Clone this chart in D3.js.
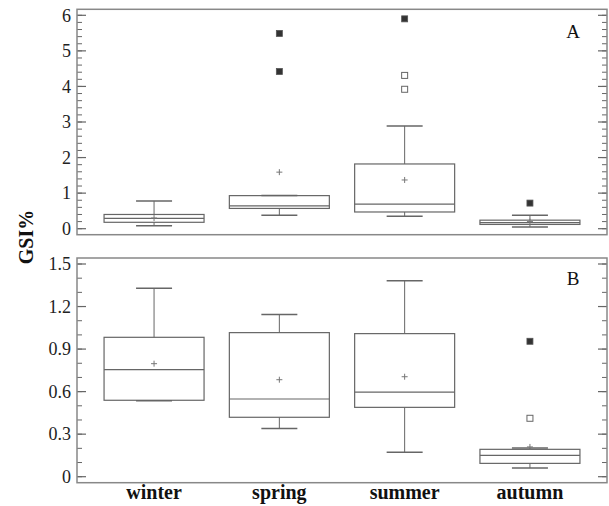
<!DOCTYPE html>
<html>
<head>
<meta charset="utf-8">
<script src="https://cdn.jsdelivr.net/npm/d3@7"></script>
<style>
body { margin: 0; background: #fff; }
</style>
</head>
<body>
<svg width="609" height="506" font-family="'Liberation Serif', 'Times New Roman', serif"></svg>
<script>
var seasons = ["winter", "spring", "summer", "autumn"];

// panel A
var aLow = [0.08, 0.38, 0.35, 0.05];
var aQ1 = [0.18, 0.57, 0.47, 0.12];
var aMed = [0.29, 0.64, 0.69, 0.17];
var aQ3 = [0.40, 0.93, 1.82, 0.24];
var aHigh = [0.78, 0.93, 2.89, 0.38];
var aMean = [0.30, 1.59, 1.37, 0.20];
var aFar = [[], [5.49, 4.42], [5.90], [0.72]];
var aOut = [[], [], [4.31, 3.92], []];
var aTicks = [0, 1, 2, 3, 4, 5, 6];

// panel B
var bLow = [0.535, 0.34, 0.172, 0.061];
var bQ1 = [0.539, 0.419, 0.489, 0.094];
var bMed = [0.755, 0.548, 0.597, 0.151];
var bQ3 = [0.983, 1.016, 1.009, 0.193];
var bHigh = [1.329, 1.143, 1.382, 0.202];
var bMean = [0.797, 0.684, 0.705, 0.21];
var bFar = [[], [], [], [0.955]];
var bOut = [[], [], [], [0.412]];
var bTicks = [0, 0.3, 0.6, 0.9, 1.2, 1.5];

var svg = d3.select("svg");
var left = 77, right = 607;
var lineCol = "#666";

var x = d3.scalePoint()
    .domain(seasons)
    .range([left, right])
    .padding(0.615);

function panel(top, bottom, yDomain, ticks, minorStep, low, q1, med, q3, high, mean, far, out, letter, fmt) {
    var y = d3.scaleLinear().domain(yDomain).range([bottom, top]);
    var g = svg.append("g");

    var minor = d3.range(yDomain[0], yDomain[1] + minorStep / 2, minorStep);
    // ticks on both sides, pointing inward
    g.selectAll(".mnl").data(minor).enter().append("line")
        .attr("x1", left).attr("x2", left + 5)
        .attr("y1", function(d) { return y(d); }).attr("y2", function(d) { return y(d); })
        .attr("stroke", lineCol).attr("stroke-width", 1);
    g.selectAll(".mnr").data(minor).enter().append("line")
        .attr("x1", right).attr("x2", right - 5)
        .attr("y1", function(d) { return y(d); }).attr("y2", function(d) { return y(d); })
        .attr("stroke", lineCol).attr("stroke-width", 1);
    g.selectAll(".mjl").data(ticks).enter().append("line")
        .attr("x1", left).attr("x2", left + 9)
        .attr("y1", function(d) { return y(d); }).attr("y2", function(d) { return y(d); })
        .attr("stroke", lineCol).attr("stroke-width", 1.2);
    g.selectAll(".mjr").data(ticks).enter().append("line")
        .attr("x1", right).attr("x2", right - 9)
        .attr("y1", function(d) { return y(d); }).attr("y2", function(d) { return y(d); })
        .attr("stroke", lineCol).attr("stroke-width", 1.2);
    g.selectAll(".tl").data(ticks).enter().append("text")
        .attr("x", left - 6)
        .attr("y", function(d) { return y(d); })
        .attr("dy", "0.35em")
        .attr("text-anchor", "end")
        .attr("font-size", 18)
        .attr("fill", "#222")
        .text(fmt);

    g.append("rect")
        .attr("x", left).attr("y", top - 6)
        .attr("width", right - left).attr("height", bottom - top + 12)
        .attr("fill", "none").attr("stroke", "#888").attr("stroke-width", 1.5);

    var bw = 100, cap = 18;
    var box = g.selectAll(".box").data(seasons).enter().append("g");
    box.append("line")
        .attr("x1", function(d) { return x(d); }).attr("x2", function(d) { return x(d); })
        .attr("y1", function(d, i) { return y(high[i]); })
        .attr("y2", function(d, i) { return y(q3[i]); })
        .attr("stroke", lineCol);
    box.append("line")
        .attr("x1", function(d) { return x(d); }).attr("x2", function(d) { return x(d); })
        .attr("y1", function(d, i) { return y(q1[i]); })
        .attr("y2", function(d, i) { return y(low[i]); })
        .attr("stroke", lineCol);
    box.append("line")
        .attr("x1", function(d) { return x(d) - cap; }).attr("x2", function(d) { return x(d) + cap; })
        .attr("y1", function(d, i) { return y(high[i]); })
        .attr("y2", function(d, i) { return y(high[i]); })
        .attr("stroke", lineCol).attr("stroke-width", 1.5);
    box.append("line")
        .attr("x1", function(d) { return x(d) - cap; }).attr("x2", function(d) { return x(d) + cap; })
        .attr("y1", function(d, i) { return y(low[i]); })
        .attr("y2", function(d, i) { return y(low[i]); })
        .attr("stroke", lineCol).attr("stroke-width", 1.5);
    box.append("rect")
        .attr("x", function(d) { return x(d) - bw / 2; })
        .attr("y", function(d, i) { return y(q3[i]); })
        .attr("width", bw)
        .attr("height", function(d, i) { return y(q1[i]) - y(q3[i]); })
        .attr("fill", "none").attr("stroke", lineCol).attr("stroke-width", 1.2);
    box.append("line")
        .attr("x1", function(d) { return x(d) - bw / 2; }).attr("x2", function(d) { return x(d) + bw / 2; })
        .attr("y1", function(d, i) { return y(med[i]); })
        .attr("y2", function(d, i) { return y(med[i]); })
        .attr("stroke", lineCol).attr("stroke-width", 1.2);
    // mean markers
    box.append("path")
        .attr("d", function(d, i) {
            var cx = x(d), cy = y(mean[i]);
            return "M" + (cx - 3) + "," + cy + "H" + (cx + 3) + "M" + cx + "," + (cy - 3) + "V" + (cy + 3);
        })
        .attr("stroke", "#777").attr("stroke-width", 1);
    // far outliers (filled) and outliers (open)
    seasons.forEach(function(s, i) {
        g.selectAll(null).data(far[i]).enter().append("rect")
            .attr("x", x(s) - 3).attr("y", function(v) { return y(v) - 3; })
            .attr("width", 6).attr("height", 6)
            .attr("fill", "#333").attr("stroke", "#555").attr("stroke-width", 0.8);
        g.selectAll(null).data(out[i]).enter().append("rect")
            .attr("x", x(s) - 3).attr("y", function(v) { return y(v) - 3; })
            .attr("width", 6).attr("height", 6)
            .attr("fill", "#fff").attr("stroke", "#666").attr("stroke-width", 1);
    });

    g.append("text")
        .attr("x", 573).attr("y", top + (letter == "A" ? 23 : 21))
        .attr("text-anchor", "middle")
        .attr("font-size", 19)
        .attr("fill", "#111")
        .text(letter);
    return y;
}

panel(15.3, 228.7, [0, 6], aTicks, 0.2, aLow, aQ1, aMed, aQ3, aHigh, aMean, aFar, aOut, "A",
    function(d) { return d; });
panel(264, 476.7, [0, 1.5], bTicks, 0.1, bLow, bQ1, bMed, bQ3, bHigh, bMean, bFar, bOut, "B",
    function(d) { return d == 0 ? "0" : d3.format(".1f")(d); });

svg.append("text")
    .attr("transform", "translate(33,237) rotate(-90)")
    .attr("text-anchor", "middle")
    .attr("font-size", 20)
    .attr("font-weight", "bold")
    .attr("fill", "#111")
    .text("GSI%");

svg.selectAll(".cat").data(seasons).enter().append("text")
    .attr("x", function(d) { return x(d); })
    .attr("y", 499)
    .attr("text-anchor", "middle")
    .attr("font-size", 20)
    .attr("font-weight", "bold")
    .attr("fill", "#111")
    .text(function(d) { return d; });
</script>
</body>
</html>
